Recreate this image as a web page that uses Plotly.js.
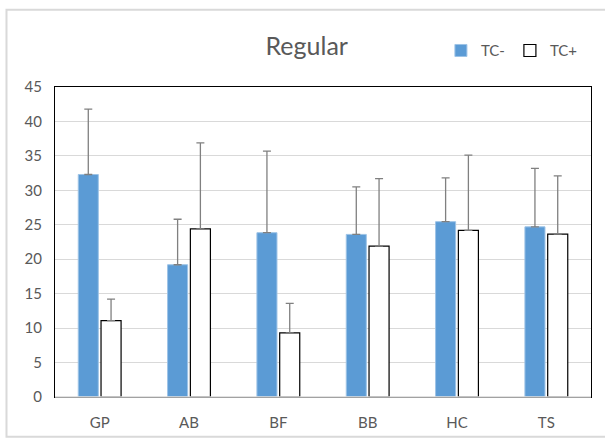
<!DOCTYPE html>
<html>
<head>
<meta charset="utf-8">
<script src="https://cdn.plot.ly/plotly-3.0.1.min.js"></script>
<style>
html,body{margin:0;padding:0;background:#fff;}
#chart{width:605px;height:438px;}
</style>
</head>
<body>
<div id="chart"></div>
<script>
const categories = ["GP", "AB", "BF", "BB", "HC", "TS"];
const tcMinus = [32.3, 19.2, 23.85, 23.6, 25.45, 24.7];
const tcMinusErr = [9.5, 6.6, 11.85, 6.9, 6.35, 8.5];
const tcPlus = [11.1, 24.4, 9.3, 21.9, 24.2, 23.65];
const tcPlusErr = [3.1, 12.5, 4.3, 9.8, 10.9, 8.45];
const zeros = [0, 0, 0, 0, 0, 0];

const grey = "#595959";
const fontFam = "Lato, 'Open Sans', sans-serif";

const traces = [
  {
    type: "bar", name: "TC-", x: categories, y: tcMinus,
    marker: {color: "#5B9BD5", line: {color: "#9DC3E6", width: 1}},
    error_y: {type: "data", symmetric: false, array: tcMinusErr, arrayminus: zeros,
              color: "#808080", thickness: 1.3, width: 4}
  },
  {
    type: "bar", name: "TC+", x: categories, y: tcPlus,
    marker: {color: "#FFFFFF", line: {color: "#000000", width: 1.2}},
    error_y: {type: "data", symmetric: false, array: tcPlusErr, arrayminus: zeros,
              color: "#808080", thickness: 1.3, width: 4}
  }
];

const layout = {
  width: 605, height: 438,
  margin: {l: 55, r: 14, t: 87, b: 41},
  paper_bgcolor: "#fff", plot_bgcolor: "#fff",
  barmode: "group", bargap: 0.49, bargroupgap: 0.12,
  font: {family: fontFam, color: grey, size: 15},
  title: {text: "Regular", font: {family: fontFam, size: 25, color: grey},
          x: 0.507, xanchor: "center", y: 0.895, yanchor: "middle"},
  showlegend: true,
  legend: {orientation: "h", x: 0.72, xanchor: "left", y: 1.117, yanchor: "middle",
           font: {family: fontFam, size: 15, color: grey}, traceorder: "normal",
           itemwidth: 30, bgcolor: "rgba(0,0,0,0)"},
  xaxis: {
    showgrid: false, showline: true, linecolor: "#000", linewidth: 1, mirror: true,
    ticks: "", tickfont: {size: 15, color: grey}, ticklabelstandoff: 12
  },
  yaxis: {
    range: [0, 45], dtick: 5, tick0: 0, showgrid: true, gridcolor: "#D9D9D9", gridwidth: 1,
    showline: true, linecolor: "#000", linewidth: 1, mirror: true, zeroline: false,
    ticks: "", tickfont: {size: 15, color: grey}, ticklabelstandoff: 9
  },
  shapes: [
    {type: "line", xref: "paper", yref: "paper", x0: 0, x1: 1, y0: 0, y1: 0,
     line: {color: "#D9D9D9", width: 1.5}},
    {type: "rect", xref: "paper", yref: "paper", x0: -0.0905, x1: 1.03, y0: -0.128, y1: 1.249,
     line: {color: "#D9D9D9", width: 2}, fillcolor: "rgba(0,0,0,0)", layer: "below"}
  ]
};

Plotly.newPlot("chart", traces, layout, {displayModeBar: false, staticPlot: true});
</script>
</body>
</html>
